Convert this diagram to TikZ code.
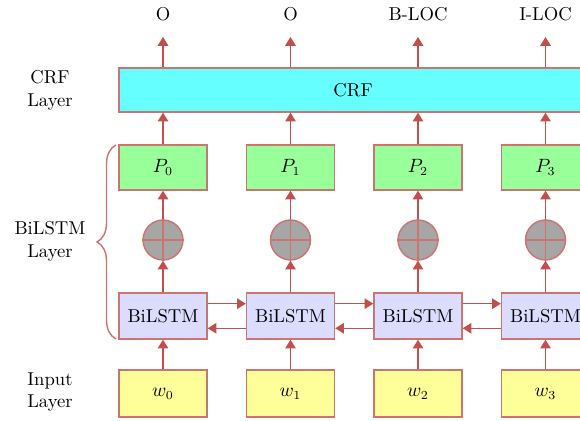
\documentclass[tikz,border=0pt]{standalone}
\usepackage{amsmath,amssymb}
\usepackage{tikz}
\usetikzlibrary{arrows,arrows.meta,calc,positioning,decorations.pathreplacing}
\usepackage{xcolor}

\definecolor{edgered}{RGB}{192,80,77}
\definecolor{boxred}{RGB}{205,115,112}
\definecolor{crfcyan}{RGB}{102,255,255}
\definecolor{pgreen}{RGB}{153,255,153}
\definecolor{lstmblue}{RGB}{220,220,255}
\definecolor{inyellow}{RGB}{255,255,153}
\definecolor{sumgray}{RGB}{166,166,166}

\begin{document}
\begin{tikzpicture}[x=0.02cm,y=0.02cm,line width=0.8pt,
	>={Triangle[length=5pt,width=6pt]},
	font=\fontsize{10.6}{13}\selectfont,
	unit/.style={draw=boxred,minimum width=1.76cm,minimum height=0.92cm,inner sep=0pt},
	flow/.style={->,draw=edgered},
	layer/.style={align=center}]

\useasboundingbox (0,0) rectangle (580,421);

% side labels
\node[layer] (crflab) at (50,331) {CRF\\Layer};
\node[layer] (lstmlab) at (50,180) {BiLSTM\\Layer};
\node[layer] (inlab) at (50,29) {Input\\Layer};

% crf layer
\node[unit,fill=crfcyan,minimum width=9.36cm,minimum height=0.88cm] (crf) at (353,331) {CRF};

\foreach \i/\tag in {0/O,1/O,2/B-LOC,3/I-LOC}{
	\pgfmathsetmacro{\cx}{163+127.5*\i}
	\node[unit,fill=inyellow,minimum height=0.94cm] (w\i) at (\cx,27.5) {$w_{\i}$};
	\node[unit,fill=lstmblue] (b\i) at (\cx,105) {BiLSTM};
	\node[circle,draw=boxred,fill=sumgray,minimum size=0.8cm,inner sep=0pt] (s\i) at (\cx,181) {};
	\node[unit,fill=pgreen,minimum height=0.9cm] (p\i) at (\cx,253.5) {$P_{\i}$};
	\coordinate (t\i) at (\cx,384);
	\node (o\i) at (\cx,407) {\tag};

	\draw[boxred] (s\i.north) -- (s\i.south) (s\i.west) -- (s\i.east);
	\draw[flow] (w\i) -- (b\i);
	\draw[flow] (b\i) -- (s\i);
	\draw[flow] (s\i) -- (p\i);
	\draw[flow] (p\i) -- (p\i.north |- crf.south);
	\draw[flow] (p\i.north |- crf.north) -- (t\i);
}

% links between the bilstm cells
\foreach \i/\j in {0/1,1/2,2/3}{
	\draw[flow] ([yshift=7]b\i.east) -- ([yshift=7]b\j.west);
	\draw[flow] ([yshift=-7]b\j.west) -- ([yshift=-7]b\i.east);
}

% brace
\draw[boxred,decorate,decoration={brace,amplitude=0.38cm}] (116,82) -- (116,276);

\end{tikzpicture}
\end{document}
